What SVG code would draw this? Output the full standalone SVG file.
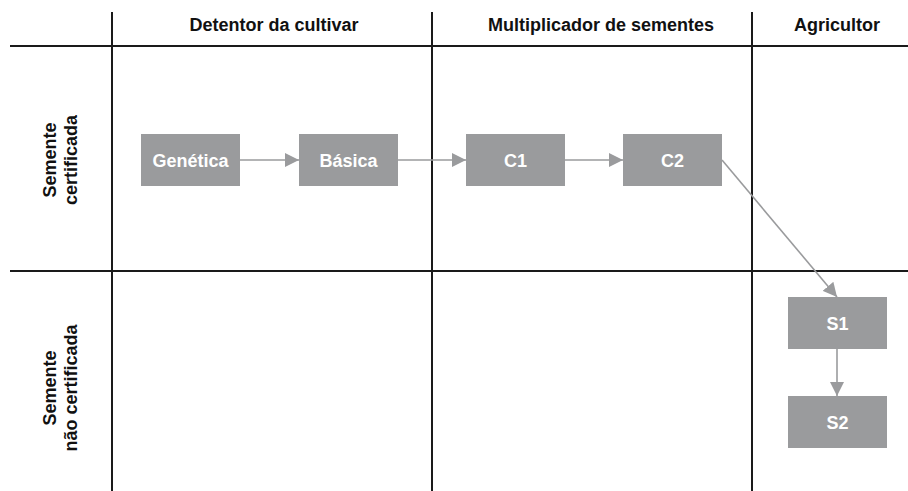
<svg xmlns="http://www.w3.org/2000/svg" width="908" height="491" viewBox="0 0 908 491">
<style>
.grid{stroke:#1a1a1a;stroke-width:2;fill:none}
.hdr{font-family:"Liberation Sans",Arial,sans-serif;font-weight:bold;font-size:18px;fill:#111;text-anchor:middle}
.box{fill:#9a9b9d}
.lbl{font-family:"Liberation Sans",Arial,sans-serif;font-weight:bold;font-size:18px;fill:#fff;text-anchor:middle}
.conn{stroke:#9a9b9d;stroke-width:1.6;fill:none;marker-end:url(#ah)}
</style>
<defs>
<marker id="ah" viewBox="0 0 14 14" refX="14" refY="7" markerWidth="14" markerHeight="14" markerUnits="userSpaceOnUse" orient="auto">
<path d="M0,0 L14,7 L0,14 Z" fill="#9a9b9d"/>
</marker>
</defs>
<rect width="908" height="491" fill="#fff"/>
<g id="grid">
<line class="grid" x1="10" y1="46" x2="908" y2="46"/>
<line class="grid" x1="10" y1="271" x2="908" y2="271"/>
<line class="grid" x1="112" y1="12" x2="112" y2="491"/>
<line class="grid" x1="432" y1="12" x2="432" y2="491"/>
<line class="grid" x1="752" y1="12" x2="752" y2="491"/>
</g>
<g id="headers">
<text class="hdr" x="274" y="31">Detentor da cultivar</text>
<text class="hdr" x="601" y="31">Multiplicador de sementes</text>
<text class="hdr" x="837" y="31">Agricultor</text>
<text class="hdr" transform="translate(56,160) rotate(-90)">Semente</text>
<text class="hdr" transform="translate(77,160) rotate(-90)">certificada</text>
<text class="hdr" transform="translate(56,388) rotate(-90)">Semente</text>
<text class="hdr" transform="translate(77,388) rotate(-90)">não certificada</text>
</g>
<g id="connectors">
<line class="conn" x1="240" y1="160" x2="299" y2="160"/>
<line class="conn" x1="398" y1="160" x2="466" y2="160"/>
<line class="conn" x1="565" y1="160" x2="623" y2="160"/>
<line class="conn" x1="722" y1="160" x2="837" y2="297"/>
<line class="conn" x1="837" y1="349" x2="837" y2="396"/>
</g>
<g id="n-genetica"><rect class="box" x="141" y="134" width="99" height="52"/><text class="lbl" x="190.5" y="166.5">Genética</text></g>
<g id="n-basica"><rect class="box" x="299" y="134" width="99" height="52"/><text class="lbl" x="348.5" y="166.5">Básica</text></g>
<g id="n-c1"><rect class="box" x="466" y="134" width="99" height="52"/><text class="lbl" x="515.5" y="166.5">C1</text></g>
<g id="n-c2"><rect class="box" x="623" y="134" width="99" height="52"/><text class="lbl" x="672.5" y="166.5">C2</text></g>
<g id="n-s1"><rect class="box" x="788" y="297" width="99" height="52"/><text class="lbl" x="837.5" y="329.5">S1</text></g>
<g id="n-s2"><rect class="box" x="788" y="396" width="99" height="52"/><text class="lbl" x="837.5" y="428.5">S2</text></g>
</svg>
